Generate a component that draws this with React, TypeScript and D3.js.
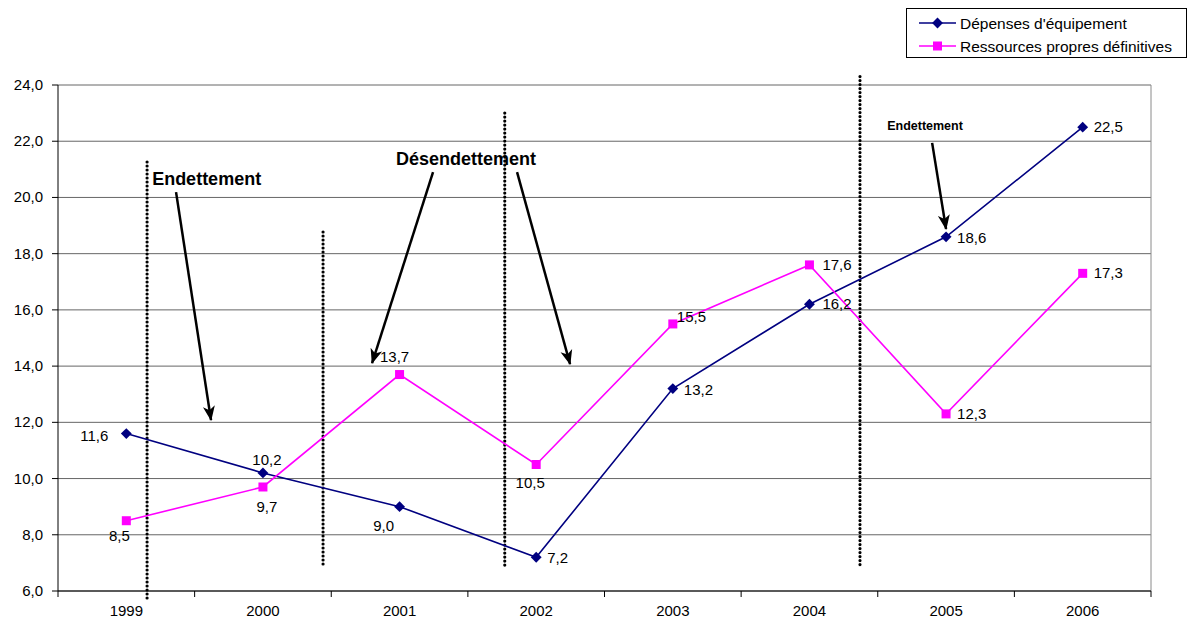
import React from "react";
import * as d3 from "d3";

// Years on the category axis
const years = ["1999", "2000", "2001", "2002", "2003", "2004", "2005", "2006"];
// Dépenses d'équipement
const depenses = [11.6, 10.2, 9.0, 7.2, 13.2, 16.2, 18.6, 22.5];
// Ressources propres définitives
const ressources = [8.5, 9.7, 13.7, 10.5, 15.5, 17.6, 12.3, 17.3];
// Value axis ticks
const yTicks = [6, 8, 10, 12, 14, 16, 18, 20, 22, 24];

// Label offsets (px) relative to each point
const depLabelPos: [number, number, string][] = [
  [-18, 7, "end"], [4, -8, "middle"], [-16, 24, "middle"], [11, 6, "start"],
  [11, 6, "start"], [13, 5, "start"], [11, 6, "start"], [11, 5, "start"],
];
const resLabelPos: [number, number, string][] = [
  [-7, 20, "middle"], [4, 25, "middle"], [-5, -13, "middle"], [-6, 23, "middle"],
  [4, -2, "start"], [13, 5, "start"], [11, 5, "start"], [11, 5, "start"],
];

// Period separators: position in category units, value range
const separators: [number, number, number][] = [
  [0.652, 21.26, 5.75],
  [1.94, 18.77, 6.82],
  [3.27, 23.0, 6.92],
  [5.87, 24.3, 6.85],
];

// Annotation arrows: [x0, v0, x1, v1] in category units / values
const arrows: [number, number, number, number][] = [
  [0.864, 20.19, 1.12, 12.08],
  [2.745, 20.9, 2.299, 14.11],
  [3.36, 20.9, 3.748, 14.07],
  [6.398, 21.94, 6.5, 18.88],
];

// Annotation texts: [label, x (category units), value, font size]
const notes: [string, number, number, number][] = [
  ["Endettement", 0.689, 20.44, 18],
  ["Désendettement", 2.474, 21.15, 18],
  ["Endettement", 6.069, 22.4, 12.5],
];

const W = 1194;
const H = 620;
const left = 58;
const right = 1151;
const top = 85;
const bottom = 591;
const font = "'Liberation Sans', Arial, sans-serif";
const NAVY = "#000080";
const MAGENTA = "#FF00FF";

const fmt = (v: number) => d3.format(".1f")(v).replace(".", ",");

export default function App() {
  const x = d3.scaleBand().domain(years).range([left, right]).padding(0);
  const cx = (yr: string) => (x(yr) as number) + x.bandwidth() / 2;
  const xu = d3.scaleLinear().domain([0, years.length]).range([left, right]);
  const y = d3.scaleLinear().domain([6, 24]).range([bottom, top]);

  const line = d3
    .line<number>()
    .x((_, i) => cx(years[i]))
    .y((d) => y(d));

  const diamond = d3.symbol().type(d3.symbolDiamond2).size(75)() as string;

  return (
    <svg
      width={W}
      height={H}
      style={{ position: "absolute", left: 0, top: 0, background: "#fff" }}
      fontFamily={font}
    >
      <defs>
        <marker
          id="arrowhead"
          markerUnits="userSpaceOnUse"
          markerWidth={16}
          markerHeight={16}
          viewBox="0 0 16 16"
          refX={14}
          refY={8}
          orient="auto"
        >
          <path d="M0,2 L15,8 L0,14 L4,8 Z" fill="#000" />
        </marker>
      </defs>

      {/* horizontal gridlines */}
      {yTicks.map((t) => (
        <line
          key={"g" + t}
          x1={left}
          x2={right}
          y1={y(t)}
          y2={y(t)}
          stroke="#666"
          strokeWidth={1}
        />
      ))}
      {/* plot border right */}
      <line x1={right} x2={right} y1={top} y2={bottom} stroke="#8a8a8a" strokeWidth={1} />

      {/* y axis */}
      <line x1={left} x2={left} y1={top} y2={bottom} stroke="#000" strokeWidth={1} />
      {yTicks.map((t) => (
        <g key={"yt" + t}>
          <line x1={left - 6} x2={left} y1={y(t)} y2={y(t)} stroke="#000" />
          <text x={left - 15} y={y(t) + 5} textAnchor="end" fontSize={15} fill="#000">
            {fmt(t)}
          </text>
        </g>
      ))}

      {/* x axis */}
      <line x1={left} x2={right} y1={bottom} y2={bottom} stroke="#000" strokeWidth={1} />
      {d3.range(years.length + 1).map((i) => (
        <line
          key={"xt" + i}
          x1={xu(i)}
          x2={xu(i)}
          y1={bottom}
          y2={bottom + 6}
          stroke="#000"
        />
      ))}
      {years.map((yr) => (
        <text key={"xl" + yr} x={cx(yr)} y={616} textAnchor="middle" fontSize={15} fill="#000">
          {yr}
        </text>
      ))}

      {/* period separators */}
      {separators.map(([u, v0, v1], i) => (
        <line
          key={"sep" + i}
          x1={xu(u)}
          x2={xu(u)}
          y1={y(v0)}
          y2={y(v1)}
          stroke="#000"
          strokeWidth={3.2}
          strokeDasharray="0 4"
          strokeLinecap="round"
        />
      ))}

      {/* series lines */}
      <path d={line(depenses) as string} fill="none" stroke={NAVY} strokeWidth={1.6} />
      <path d={line(ressources) as string} fill="none" stroke={MAGENTA} strokeWidth={1.6} />

      {/* markers */}
      {depenses.map((v, i) => (
        <path
          key={"dm" + i}
          d={diamond}
          transform={`translate(${cx(years[i])},${y(v)})`}
          fill={NAVY}
        />
      ))}
      {ressources.map((v, i) => (
        <rect
          key={"rm" + i}
          x={cx(years[i]) - 4.5}
          y={y(v) - 4.5}
          width={9}
          height={9}
          fill={MAGENTA}
        />
      ))}

      {/* value labels */}
      {depenses.map((v, i) => (
        <text
          key={"dl" + i}
          x={cx(years[i]) + depLabelPos[i][0]}
          y={y(v) + depLabelPos[i][1]}
          textAnchor={depLabelPos[i][2] as any}
          fontSize={15}
          fill="#000"
        >
          {fmt(v)}
        </text>
      ))}
      {ressources.map((v, i) => (
        <text
          key={"rl" + i}
          x={cx(years[i]) + resLabelPos[i][0]}
          y={y(v) + resLabelPos[i][1]}
          textAnchor={resLabelPos[i][2] as any}
          fontSize={15}
          fill="#000"
        >
          {fmt(v)}
        </text>
      ))}

      {/* annotation arrows */}
      {arrows.map(([u0, v0, u1, v1], i) => (
        <line
          key={"ar" + i}
          x1={xu(u0)}
          y1={y(v0)}
          x2={xu(u1)}
          y2={y(v1)}
          stroke="#000"
          strokeWidth={2.5}
          markerEnd="url(#arrowhead)"
        />
      ))}
      {notes.map(([label, u, v, fs], i) => (
        <text
          key={"nt" + i}
          x={xu(u)}
          y={y(v)}
          fontSize={fs}
          fontWeight="bold"
          fill="#000"
        >
          {label}
        </text>
      ))}

      {/* legend */}
      <g>
        <rect x={906.5} y={8.5} width={280} height={49} fill="#fff" stroke="#000" strokeWidth={1} />
        <line x1={919} x2={956} y1={23} y2={23} stroke={NAVY} strokeWidth={1.6} />
        <path d={diamond} transform="translate(937.5,23)" fill={NAVY} />
        <text x={960} y={28.5} fontSize={15.5} fill="#000">
          Dépenses d'équipement
        </text>
        <line x1={919} x2={956} y1={46} y2={46} stroke={MAGENTA} strokeWidth={1.6} />
        <rect x={933} y={41.5} width={9} height={9} fill={MAGENTA} />
        <text x={960} y={51.5} fontSize={15.5} fill="#000">
          Ressources propres définitives
        </text>
      </g>
    </svg>
  );
}
